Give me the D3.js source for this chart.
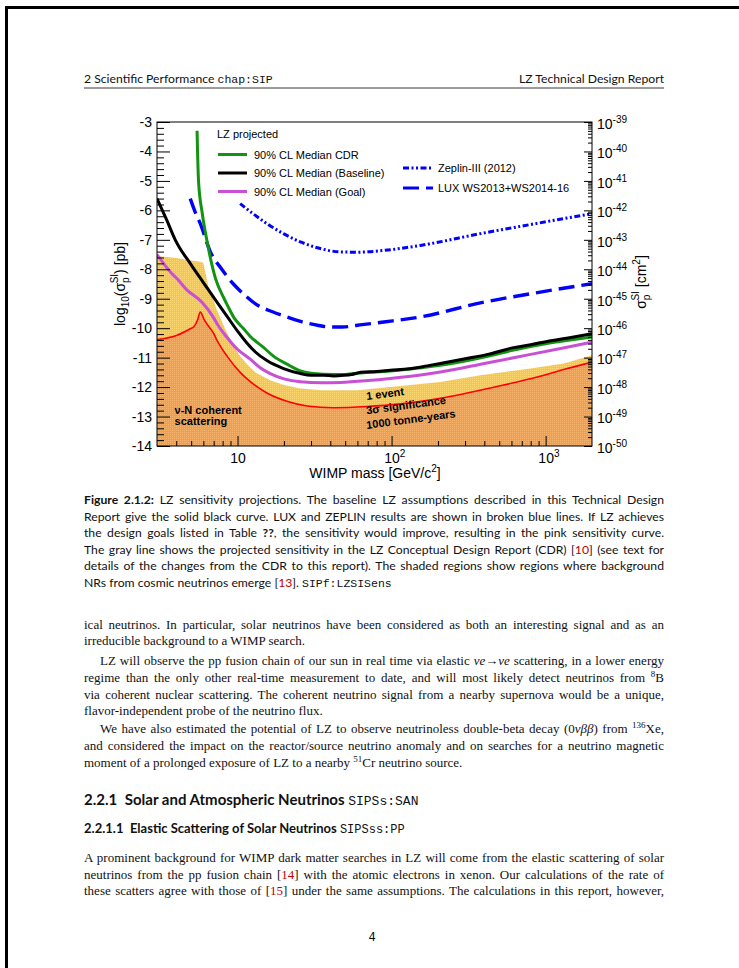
<!DOCTYPE html>
<html>
<head>
<meta charset="utf-8">
<script src="https://cdn.jsdelivr.net/npm/d3@7"></script>
<style>
body{margin:0;background:#fff}
svg{display:block}
.cap{font-family:Lato,"Open Sans",sans-serif;font-size:12.2px;fill:#111}
.body{font-family:"Liberation Serif","Times New Roman",serif;font-size:13px;fill:#111}
.mono{font-family:"Liberation Mono","DejaVu Sans Mono",monospace;font-size:11.5px}
.bold{font-weight:bold}
.ital{font-style:italic}
.red{fill:#c00000}
.chart text{font-family:"Liberation Sans",Arial,sans-serif;fill:#000}
</style>
</head>
<body>
<svg id="page" width="739" height="968"></svg>
<script>
// ---------------- DATA (mass GeV/c2 , log10 sigma pb) ----------------
var xMajor = [10, 100, 1000];
var xMinor = [4,5,6,7,8,9,20,30,40,50,60,70,80,90,200,300,400,500,600,700,800,900];
var yMajor = [-14,-13,-12,-11,-10,-9,-8,-7,-6,-5,-4,-3];

var cdrCurve = [[5.46,-3.3],[5.58,-5.0],[5.9,-6.1],[6.34,-7.05],[6.82,-7.85],[7.18,-8.3],[8.1,-8.95],[8.55,-9.2],[9.5,-9.65],[10.95,-10.02],[12.1,-10.28],[14.8,-10.66],[17.1,-10.95],[20.9,-11.22],[25.6,-11.45],[30,-11.53],[36,-11.56],[50,-11.57],[63,-11.52],[98,-11.45],[150,-11.35],[207,-11.26],[400,-10.98],[621,-10.74],[1020,-10.52],[1400,-10.41],[2000,-10.3]];
var baseCurve = [[3,-5.6],[3.45,-6.3],[3.94,-7.0],[5.0,-7.85],[6.0,-8.45],[7.2,-9.05],[8.55,-9.6],[10,-10.1],[11.5,-10.5],[13,-10.8],[15.5,-11.1],[19.9,-11.37],[25.6,-11.54],[30,-11.6],[36,-11.6],[42,-11.62],[49,-11.6],[55,-11.57],[63,-11.5],[80,-11.47],[98,-11.43],[130,-11.38],[170,-11.28],[207,-11.2],[300,-11.04],[420,-10.89],[621,-10.66],[800,-10.56],[1020,-10.45],[1400,-10.33],[2000,-10.19]];
var goalCurve = [[3,-7.5],[3.75,-8.15],[4.05,-8.32],[4.69,-8.7],[5.88,-9.12],[7.0,-9.65],[7.36,-9.85],[8.5,-10.3],[9.9,-10.7],[12.1,-11.05],[14.1,-11.35],[16.3,-11.54],[20,-11.72],[25.6,-11.82],[35,-11.85],[46.5,-11.84],[70,-11.78],[98,-11.71],[150,-11.6],[207,-11.49],[400,-11.2],[800,-10.89],[1300,-10.67],[2000,-10.47]];
var luxCurve = [[4.93,-5.6],[5.3,-6.05],[5.73,-6.45],[6.65,-7.4],[7.9,-8.0],[9.4,-8.5],[11,-8.85],[13.3,-9.2],[16,-9.4],[19.9,-9.58],[26,-9.78],[33,-9.9],[40,-9.96],[48,-9.96],[60,-9.9],[89,-9.79],[154,-9.62],[377,-9.14],[800,-8.83],[2000,-8.49]];
var zeplinCurve = [[10.4,-5.77],[12.5,-6.1],[15.5,-6.45],[20,-6.8],[25.6,-7.07],[33,-7.27],[46.5,-7.41],[60,-7.42],[89,-7.36],[154,-7.19],[377,-6.79],[800,-6.48],[2000,-6.11]];
var nuOneEvent = [[3,-7.55],[4,-7.62],[5,-7.7],[5.88,-7.75],[6.0,-7.8],[6.49,-8.6],[7.36,-9.39],[8.3,-10.02],[9.43,-10.6],[10.4,-10.95],[11.5,-11.22],[13,-11.5],[16.3,-11.77],[20,-11.93],[25.6,-12.05],[35,-12.11],[60,-12.11],[98,-12.0],[207,-11.83],[377,-11.6],[796,-11.37],[1310,-11.2],[2000,-10.92]];
var nuThreeSigma = [[3,-10.39],[4.05,-10.24],[4.93,-10.02],[5.2,-9.95],[5.5,-9.72],[5.73,-9.45],[6.1,-9.73],[7.0,-10.18],[7.36,-10.41],[8.55,-10.95],[10.4,-11.5],[12,-11.8],[15.5,-12.2],[20.9,-12.48],[28.3,-12.64],[42,-12.7],[69,-12.66],[114,-12.57],[207,-12.38],[484,-11.98],[881,-11.66],[1380,-11.37],[2000,-11.15]];

var legendLZ = ['90% CL Median CDR','90% CL Median (Baseline)','90% CL Median (Goal)'];
var legendOther = ['Zeplin-III (2012)','LUX WS2013+WS2014-16'];

// ---------------- PAGE ----------------
var svg = d3.select('#page');
var defs = svg.append('defs');

// window frame
svg.append('path').attr('d','M739,7.5H6.5V968').attr('fill','none').attr('stroke','#000').attr('stroke-width',3);

var TL = 84, TR = 664, TW = TR - TL;

function textLine(g, xx, yy, segs, cls, width){
	var t = g.append('text').attr('x', xx).attr('y', yy).attr('class', cls);
	var shift = 0;
	segs.forEach(function(s){
		var ts = t.append('tspan').text(s.t);
		var dy = 0;
		if (s.c) {
			ts.attr('class', s.c.replace('sup',''));
			if (s.c.indexOf('sup') >= 0) { dy = -5; ts.style('font-size','9px'); }
		}
		if (dy !== shift) { ts.attr('dy', dy - shift); shift = dy; }
	});
	if (width) {
		var w = t.node().getComputedTextLength();
		var n = (t.text().match(/ /g) || []).length;
		if (n) t.style('word-spacing', ((width - w) / n) + 'px');
	}
	return t;
}

var pg = svg.append('g');

// header
textLine(pg, TL, 83, [{t:'2 Scientific Performance '},{t:'chap:SIP',c:'mono'}], 'cap');
pg.append('text').attr('x', TR).attr('y', 83).attr('text-anchor','end').attr('class','cap').text('LZ Technical Design Report');
pg.append('line').attr('x1',TL).attr('x2',TR).attr('y1',88).attr('y2',88).attr('stroke','#222').attr('stroke-width',0.9);

// caption
var capLines = [
	[{t:'Figure 2.1.2:',c:'bold'},{t:' LZ sensitivity projections. The baseline LZ assumptions described in this Technical Design'}],
	[{t:'Report give the solid black curve. LUX and ZEPLIN results are shown in broken blue lines. If LZ achieves'}],
	[{t:'the design goals listed in Table '},{t:'??',c:'bold'},{t:', the sensitivity would improve, resulting in the pink sensitivity curve.'}],
	[{t:'The gray line shows the projected sensitivity in the LZ Conceptual Design Report (CDR) ['},{t:'10',c:'red'},{t:'] (see text for'}],
	[{t:'details of the changes from the CDR to this report). The shaded regions show regions where background'}],
	[{t:'NRs from cosmic neutrinos emerge ['},{t:'13',c:'red'},{t:']. '},{t:'SIPf:LZSISens',c:'mono'}]
];
capLines.forEach(function(l, i){
	textLine(pg, TL, 504 + i * 16.6, l, 'cap', i < 5 ? TW : 0);
});

// body text
var bodyLines = [
	{y:629, ind:0, j:1, s:[{t:'ical neutrinos. In particular, solar neutrinos have been considered as both an interesting signal and as an'}]},
	{y:645, ind:0, j:0, s:[{t:'irreducible background to a WIMP search.'}]},
	{y:665, ind:16, j:1, s:[{t:'LZ will observe the pp fusion chain of our sun in real time via elastic '},{t:'\u03BDe\u2192\u03BDe',c:'ital'},{t:' scattering, in a lower energy'}]},
	{y:682, ind:0, j:1, s:[{t:'regime than the only other real-time measurement to date, and will most likely detect neutrinos from '},{t:'8',c:'sup'},{t:'B'}]},
	{y:699, ind:0, j:1, s:[{t:'via coherent nuclear scattering. The coherent neutrino signal from a nearby supernova would be a unique,'}]},
	{y:715, ind:0, j:0, s:[{t:'flavor-independent probe of the neutrino flux.'}]},
	{y:733, ind:16, j:1, s:[{t:'We have also estimated the potential of LZ to observe neutrinoless double-beta decay (0'},{t:'\u03BD\u03B2\u03B2',c:'ital'},{t:') from '},{t:'136',c:'sup'},{t:'Xe,'}]},
	{y:750, ind:0, j:1, s:[{t:'and considered the impact on the reactor/source neutrino anomaly and on searches for a neutrino magnetic'}]},
	{y:767, ind:0, j:0, s:[{t:'moment of a prolonged exposure of LZ to a nearby '},{t:'51',c:'sup'},{t:'Cr neutrino source.'}]},
	{y:862, ind:0, j:1, s:[{t:'A prominent background for WIMP dark matter searches in LZ will come from the elastic scattering of solar'}]},
	{y:879, ind:0, j:1, s:[{t:'neutrinos from the pp fusion chain ['},{t:'14',c:'red'},{t:'] with the atomic electrons in xenon. Our calculations of the rate of'}]},
	{y:895, ind:0, j:1, s:[{t:'these scatters agree with those of ['},{t:'15',c:'red'},{t:'] under the same assumptions. The calculations in this report, however,'}]}
];
bodyLines.forEach(function(l){
	textLine(pg, TL + l.ind, l.y, l.s, 'body', l.j ? TW - l.ind : 0);
});

// headings
var h1 = textLine(pg, TL, 805, [{t:'2.2.1\u2002Solar and Atmospheric Neutrinos ',c:'bold'},{t:'SIPSs:SAN',c:'mono'}], 'cap').style('font-size','15px');
h1.selectAll('.mono').style('font-size','13px');
var h2 = textLine(pg, TL, 833, [{t:'2.2.1.1\u2002Elastic Scattering of Solar Neutrinos ',c:'bold'},{t:'SIPSss:PP',c:'mono'}], 'cap').style('font-size','13px');
h2.selectAll('.mono').style('font-size','12px');

pg.append('text').attr('x', 372).attr('y', 941).attr('text-anchor','middle').attr('class','mono').style('font-size','12px').text('4');

// ---------------- CHART ----------------
var L = 157, R = 592, T = 122, B = 446;
var x = d3.scaleLog().domain([3, 2000]).range([L, R]);
var y = d3.scaleLinear().domain([-14, -3]).range([B, T]);

var chart = svg.append('g').attr('class','chart');

defs.append('clipPath').attr('id','plotclip')
.append('rect').attr('x',L).attr('y',T).attr('width',R-L).attr('height',B-T);

function texture(id, base, dot){
	var p = defs.append('pattern').attr('id',id).attr('width',2).attr('height',2).attr('patternUnits','userSpaceOnUse');
	p.append('rect').attr('width',2).attr('height',2).attr('fill',base);
	p.append('rect').attr('width',1).attr('height',1).attr('fill',dot);
}
texture('yellowTex','#fdc53c','#fed872');
texture('orangeTex','#f59c45','#f8b46c');

var plot = chart.append('g').attr('clip-path','url(#plotclip)');

var area = d3.area().x(d=>x(d[0])).y0(y(-14)).y1(d=>y(d[1]));
var line = d3.line().x(d=>x(d[0])).y(d=>y(d[1])).curve(d3.curveMonotoneX);

plot.append('path').datum(nuOneEvent).attr('d', area).attr('fill','url(#yellowTex)');
plot.append('path').datum(nuThreeSigma).attr('d', area.curve(d3.curveMonotoneX)).attr('fill','url(#orangeTex)');
plot.append('path').datum(nuThreeSigma).attr('d', line).attr('fill','none').attr('stroke','#ff0000').attr('stroke-width',1.6);

plot.append('path').datum(zeplinCurve).attr('d', line).attr('fill','none').attr('stroke','#0000ff').attr('stroke-width',3).attr('stroke-dasharray','6,2.5,2,2.5,2,2.5');
plot.append('path').datum(luxCurve).attr('d', line).attr('fill','none').attr('stroke','#0000ff').attr('stroke-width',3.4).attr('stroke-dasharray','16,7');
plot.append('path').datum(goalCurve).attr('d', line).attr('fill','none').attr('stroke','#c94fd4').attr('stroke-width',3);
plot.append('path').datum(cdrCurve).attr('d', line).attr('fill','none').attr('stroke','#129412').attr('stroke-width',3);
plot.append('path').datum(baseCurve).attr('d', line).attr('fill','none').attr('stroke','#000').attr('stroke-width',3);

// region labels
function bandLabel(m, v, rot){
	return chart.append('text').attr('transform','translate('+x(m)+','+y(v)+') rotate('+rot+')')
	.attr('font-size','11px').attr('font-weight','bold');
}
bandLabel(3.9, -12.9, 0).text('\u03BD-N coherent');
bandLabel(3.9, -13.3, 0).text('scattering');
bandLabel(69, -12.44, -7.5).text('1 event');
bandLabel(69, -12.92, -7.5).text('3\u03C3 significance');
bandLabel(69, -13.42, -7.5).text('1000 tonne-years');

// axes
function styleAxis(g){
	g.select('.domain').remove();
	g.selectAll('line').attr('stroke','#000').attr('stroke-width',1);
	g.attr('font-family','"Liberation Sans",Arial,sans-serif').attr('font-size',14);
}

chart.append('g').attr('transform','translate(0,'+B+')')
.call(d3.axisBottom(x).tickValues(xMinor).tickSize(-5).tickFormat(''))
.call(styleAxis);

var gx = chart.append('g').attr('transform','translate(0,'+B+')')
.call(d3.axisBottom(x).tickValues(xMajor).tickSizeInner(-10).tickSizeOuter(0).tickPadding(6).tickFormat(''))
.call(styleAxis);
gx.selectAll('.tick text').each(function(d){
	var t = d3.select(this);
	var e = Math.round(Math.log10(d));
	t.attr('text-anchor','start').attr('dy','0.75em');
	var base = t.append('tspan').text('10');
	if (e > 1) t.append('tspan').attr('dy',-6).attr('font-size',10).text(e);
	t.attr('x', -base.node().getComputedTextLength() / 2);
});

chart.append('g').attr('transform','translate('+L+',0)')
.call(d3.axisLeft(y).tickValues(d3.range(-14, -3, 0.2).filter(v=>Math.abs(v-Math.round(v))>0.01)).tickSize(-7).tickFormat(''))
.call(styleAxis);
chart.append('g').attr('transform','translate('+L+',0)')
.call(d3.axisLeft(y).tickValues(yMajor).tickSizeInner(-13).tickSizeOuter(0).tickPadding(5).tickFormat(d=>String(d)))
.call(styleAxis);

var rMinor = [];
yMajor.slice(0,-1).forEach(function(n){ for (var k=2;k<=9;k++) rMinor.push(n + Math.log10(k)); });
chart.append('g').attr('transform','translate('+R+',0)')
.call(d3.axisRight(y).tickValues(rMinor).tickSize(-4).tickFormat(''))
.call(styleAxis);
var gr = chart.append('g').attr('transform','translate('+R+',0)')
.call(d3.axisRight(y).tickValues(yMajor).tickSizeInner(-8).tickSizeOuter(0).tickPadding(5).tickFormat(''))
.call(styleAxis);
gr.selectAll('.tick text').each(function(d){
	var t = d3.select(this);
	t.append('tspan').text('10');
	t.append('tspan').attr('dy',-6).attr('font-size',10).text(d - 36);
	t.attr('dy','0.45em');
});

chart.append('rect').attr('x',L).attr('y',T).attr('width',R-L).attr('height',B-T)
.attr('fill','none').attr('stroke','#000').attr('stroke-width',1);

// axis titles
var xt = chart.append('text').attr('x',(L+R)/2 + 0.5).attr('y',478).attr('text-anchor','middle').attr('font-size',14);
xt.append('tspan').text('WIMP mass [GeV/c');
xt.append('tspan').attr('dy',-6).attr('font-size',10).text('2');
xt.append('tspan').attr('dy',6).text(']');

var yt = chart.append('text').attr('transform','translate(125,'+((T+B)/2)+') rotate(-90)').attr('text-anchor','middle').attr('font-size',14);
yt.append('tspan').text('log');
yt.append('tspan').attr('dy',4).attr('font-size',10).text('10');
yt.append('tspan').attr('dy',-4).text('(\u03C3');
yt.append('tspan').attr('dy',4).attr('font-size',10).text('p');
yt.append('tspan').attr('dx',-6).attr('dy',-11).attr('font-size',10).text('SI');
yt.append('tspan').attr('dy',7).text(') [pb]');

var rt = chart.append('text').attr('transform','translate(646,'+((T+B)/2 - 2)+') rotate(-90)').attr('text-anchor','middle').attr('font-size',14);
rt.append('tspan').text('\u03C3');
rt.append('tspan').attr('dy',4).attr('font-size',10).text('p');
rt.append('tspan').attr('dx',-6).attr('dy',-11).attr('font-size',10).text('SI');
rt.append('tspan').attr('dy',7).text(' [cm');
rt.append('tspan').attr('dy',-6).attr('font-size',10).text('2');
rt.append('tspan').attr('dy',6).text(']');

// legends
var lg = chart.append('g').attr('font-size',11);
lg.append('text').attr('x',217).attr('y',138).attr('font-size',11).text('LZ projected');
var lzColors = ['#129412','#000','#c94fd4'];
legendLZ.forEach(function(name, i){
	var yy = 154.5 + i * 18.5;
	lg.append('line').attr('x1',218).attr('x2',247).attr('y1',yy).attr('y2',yy).attr('stroke',lzColors[i]).attr('stroke-width',3);
	lg.append('text').attr('x',254).attr('y',yy+4).attr('font-size',11).text(name);
});
var otherDash = ['6,2.5,2,2.5,2,2.5','16,7'];
legendOther.forEach(function(name, i){
	var yy = 168 + i * 20;
	lg.append('line').attr('x1',403).attr('x2',433).attr('y1',yy).attr('y2',yy).attr('stroke','#0000ff').attr('stroke-width',3).attr('stroke-dasharray',otherDash[i]);
	lg.append('text').attr('x',438).attr('y',yy+4).attr('font-size',11).text(name);
});
</script>
</body>
</html>
